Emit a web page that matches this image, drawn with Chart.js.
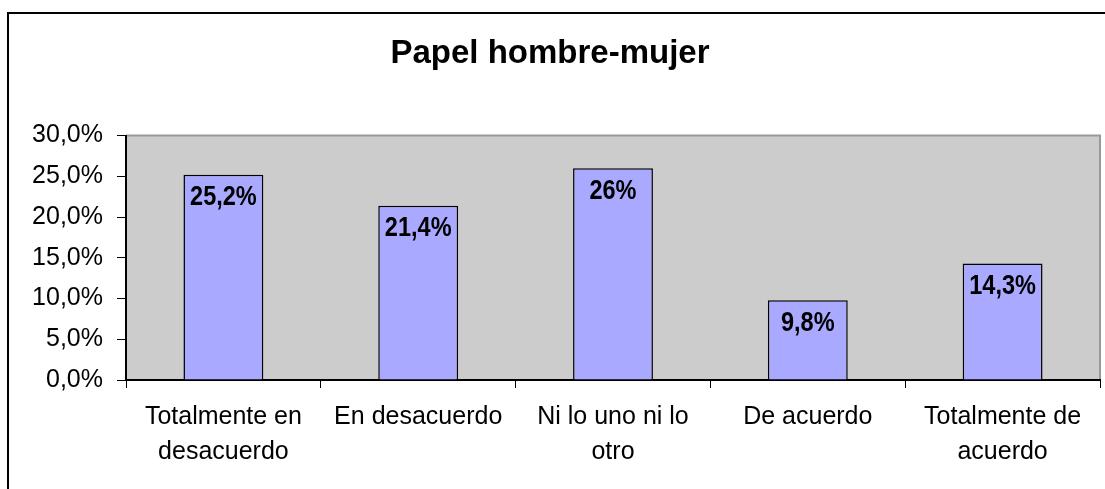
<!DOCTYPE html>
<html lang="es">
<head>
  <meta charset="utf-8">
  <title>Papel hombre-mujer</title>
  <script src="https://cdn.jsdelivr.net/npm/chart.js@4.4.1/dist/chart.umd.min.js"></script>
  <style>
    html, body { margin: 0; padding: 0; background: #fff; overflow: hidden; }
    #wrap { position: relative; width: 1105px; height: 489px; }
    #frame { position: absolute; left: 7px; top: 12px; width: 1200px; height: 600px; border: 2px solid #000; box-sizing: border-box; }
    #chart { position: absolute; left: 0; top: 0; }
  </style>
</head>
<body>
  <div id="wrap">
    <div id="frame"></div>
    <canvas id="chart" width="1105" height="489"></canvas>
  </div>
  <script>
    const chartTitle = 'Papel hombre-mujer';
    const categories = [
      ['Totalmente en', 'desacuerdo'],
      'En desacuerdo',
      ['Ni lo uno ni lo', 'otro'],
      'De acuerdo',
      ['Totalmente de', 'acuerdo']
    ];
    const percentages = [25.2, 21.4, 26, 9.8, 14.3];
    const yTicks = [0, 5, 10, 15, 20, 25, 30];

    const fmtPct = v => String(v).replace('.', ',') + '%';

    // gray plot area with thin border on top/right
    const plotBg = {
      id: 'plotBg',
      beforeDraw(chart) {
        const { ctx, chartArea: a } = chart;
        ctx.save();
        ctx.fillStyle = '#cccccc';
        ctx.fillRect(a.left, a.top, a.right - a.left, a.bottom - a.top);
        ctx.strokeStyle = '#999999';
        ctx.lineWidth = 2;
        ctx.beginPath();
        ctx.moveTo(a.left, a.top);
        ctx.lineTo(a.right, a.top);
        ctx.lineTo(a.right, a.bottom);
        ctx.stroke();
        ctx.restore();
      }
    };

    // value labels inside the top of each bar (narrow bold look)
    const barLabels = {
      id: 'barLabels',
      afterDatasetsDraw(chart) {
        const { ctx } = chart;
        const meta = chart.getDatasetMeta(0);
        ctx.save();
        ctx.font = 'bold 28px "Liberation Sans", Arial, sans-serif';
        ctx.fillStyle = '#000';
        ctx.textAlign = 'center';
        ctx.textBaseline = 'middle';
        meta.data.forEach((bar, i) => {
          ctx.save();
          ctx.translate(bar.x, bar.y + 23);
          ctx.scale(0.84, 1);
          ctx.fillText(fmtPct(percentages[i]), 0, 0);
          ctx.restore();
        });
        ctx.restore();
      }
    };

    new Chart(document.getElementById('chart'), {
      type: 'bar',
      data: {
        labels: categories,
        datasets: [{
          data: percentages,
          backgroundColor: '#a9a9ff',
          borderColor: '#000',
          borderWidth: 1.5,
          barPercentage: 0.41,
          categoryPercentage: 1
        }]
      },
      options: {
        responsive: false,
        animation: false,
        layout: { padding: { left: 0, right: 5, top: 0, bottom: 0 } },
        plugins: {
          legend: { display: false },
          tooltip: { enabled: false },
          title: {
            display: true,
            text: chartTitle,
            color: '#000',
            font: { family: '"Liberation Sans", Arial, sans-serif', size: 33, weight: 'bold' },
            padding: { top: 34, bottom: 62 }
          }
        },
        scales: {
          x: {
            grid: { drawOnChartArea: false, color: '#000', tickLength: 8, offset: true },
            border: { color: '#000', width: 2 },
            ticks: {
              color: '#000',
              font: { family: '"Liberation Sans", Arial, sans-serif', size: 25, lineHeight: 1.4 },
              padding: 12,
              maxRotation: 0,
              autoSkip: false
            },
            afterFit(scale) { scale.height = 109; }
          },
          y: {
            min: yTicks[0],
            max: yTicks[yTicks.length - 1],
            afterBuildTicks(scale) { scale.ticks = yTicks.map(v => ({ value: v })); },
            grid: { drawOnChartArea: false, color: '#000', tickLength: 9 },
            border: { color: '#000', width: 2 },
            ticks: {
              color: '#000',
              font: { family: '"Liberation Sans", Arial, sans-serif', size: 25 },
              padding: 14,
              callback: v => v.toFixed(1).replace('.', ',') + '%'
            },
            afterFit(scale) { scale.width = 126; }
          }
        }
      },
      plugins: [plotBg, barLabels]
    });
  </script>
</body>
</html>
